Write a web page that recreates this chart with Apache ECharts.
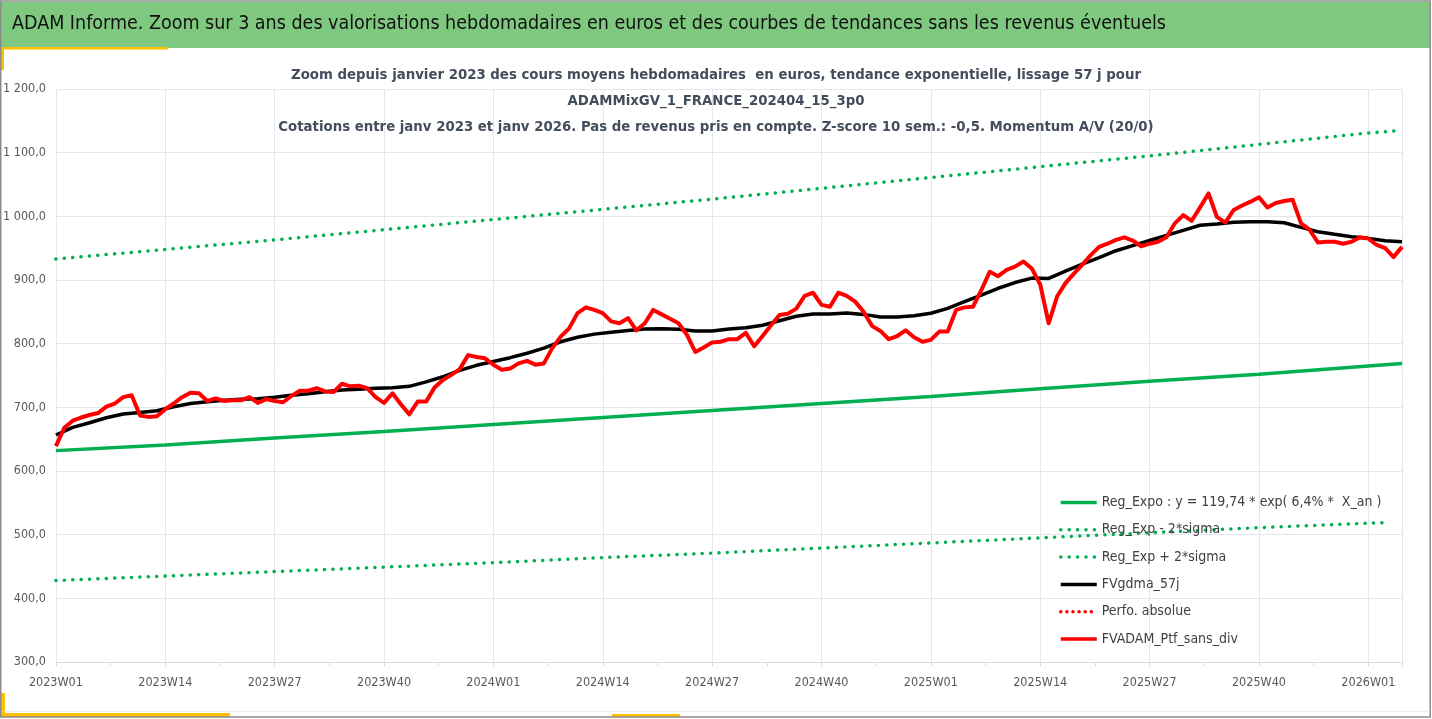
<!DOCTYPE html>
<html>
<head>
<meta charset="utf-8">
<script src="https://cdn.jsdelivr.net/npm/echarts@6/dist/echarts.min.js"></script>
<style>
  html, body { margin: 0; padding: 0; background: #fff; }
  #main { width: 1432px; height: 719px; }
</style>
</head>
<body>
<div id="main"></div>
<script>
// semaines ISO affichées (2023W01 -> 2026W05)
var weekCounts = [[2023, 52], [2024, 52], [2025, 52], [2026, 5]];
var weeks = [];
weekCounts.forEach(function (yc) {
  for (var w = 1; w <= yc[1]; w++) weeks.push(yc[0] + 'W' + (w < 10 ? '0' + w : w));
});

// FVADAM_Ptf_sans_div, une valeur par semaine
var ptfValues = [
  639, 668, 679, 684, 688, 691, 701, 706, 716, 719,
  687, 685, 686, 697, 706, 716, 723, 722, 710, 714,
  710, 711, 711, 716, 707, 713, 710, 708, 718, 726,
  726, 730, 725, 724, 737, 733, 734, 730, 716, 707,
  722, 705, 689, 709, 709, 731, 743, 751, 760, 782,
  779, 777, 767, 759, 761, 769, 773, 767, 769, 793,
  811, 824, 848, 857, 853, 848, 835, 832, 840, 821,
  832, 853, 846, 839, 832, 814, 787, 794, 802, 803,
  807, 807, 817, 796, 812, 829, 845, 847, 855, 875,
  880, 861, 858, 880, 875, 866, 850, 828, 820, 807,
  812, 821, 810, 803, 806, 819, 819, 853, 857, 858,
  884, 913, 906, 916, 921, 929, 918, 893, 832, 874,
  895, 910, 924, 939, 952, 957, 963, 967, 962, 953,
  957, 960, 967, 989, 1002, 993, 1014, 1036, 999, 990,
  1010, 1017, 1023, 1030, 1014, 1021, 1024, 1026, 989, 979,
  959, 960, 960, 957, 960, 967, 965, 955, 950, 936,
  952
];

// FVgdma_57j, lu toutes les 2 semaines (0, 2, 4 ... 160)
var gdmaValues = [
  656.5, 668.6, 675.8, 683.7, 689.5, 692, 694.7, 701, 706, 708.8,
  711, 712.6, 713.6, 715.7, 718.9, 721.4, 724.6, 727.2, 728.3, 730,
  730.8, 733, 740, 748, 758, 766, 772, 778, 785, 793,
  803, 810, 815, 818, 820.5, 823, 823.5, 822.5, 820, 820,
  823, 825, 829, 836, 843, 846.6, 846.6, 848, 846, 842,
  842, 844, 847.7, 855.5, 866, 876.4, 887, 896, 903, 902.5,
  914, 925, 935, 946, 954, 962, 970, 978, 986, 988,
  990.6, 991.6, 991.6, 990, 982.7, 975.8, 971.7, 968, 965.4, 961.7,
  960
];

// courbes de tendance, lues aux semaines étiquetées
var trendIdx = [0, 13, 26, 39, 52, 65, 78, 91, 104, 117, 130, 143, 156, 160];
var regExpo = [632, 641, 652, 662, 673, 684, 695, 706, 717, 729, 741, 752, 765, 769];
var regPlus = [933, 948, 963, 979, 995, 1011, 1027, 1044, 1061, 1078, 1095, 1113, 1131, 1135];
var lowerIdx = [0, 13, 26, 39, 52, 65, 78, 91, 104, 117, 130, 143, 156, 158];
var regMinus = [428, 435, 442, 449, 456, 464, 471, 479, 487, 495, 503, 511, 518, 519];

var yTicks = [300, 1200, 100];

function pairs(idx, vals) {
  return vals.map(function (v, k) { return [idx[k], v]; });
}

var FONT = "'Liberation Sans Narrow', 'DejaVu Sans Condensed', 'Liberation Sans', sans-serif";
var GREEN = '#00b050';

var chart = echarts.init(document.getElementById('main'));
chart.setOption({
  animation: false,
  textStyle: { fontFamily: FONT },
  title: {
    text: 'Zoom depuis janvier 2023 des cours moyens hebdomadaires  en euros, tendance exponentielle, lissage 57 j pour\n' +
      'ADAMMixGV_1_FRANCE_202404_15_3p0\n' +
      'Cotations entre janv 2023 et janv 2026. Pas de revenus pris en compte. Z-score 10 sem.: -0,5. Momentum A/V (20/0)',
    left: 'center',
    top: 62,
    padding: 0,
    textStyle: { fontFamily: FONT, fontSize: 14.8, fontWeight: 'bold', color: '#434d5c', lineHeight: 26 }
  },
  graphic: [
    { type: 'rect', shape: { x: 0, y: 2, width: 1430, height: 46 }, style: { fill: '#7fc87f' }, silent: true },
    {
      type: 'text', left: 12, top: 14,
      style: {
        text: 'ADAM Informe. Zoom sur 3 ans des valorisations hebdomadaires en euros et des courbes de tendances sans les revenus éventuels',
        font: '19.5px ' + FONT, fill: '#111'
      }
    },
    { type: 'rect', shape: { x: 0, y: 47, width: 168, height: 2.5 }, style: { fill: '#ffc000' }, silent: true },
    { type: 'rect', shape: { x: 0, y: 47, width: 4, height: 23 }, style: { fill: '#ffc000' }, silent: true },
    { type: 'rect', shape: { x: 0, y: 713, width: 230, height: 4 }, style: { fill: '#ffc000' }, silent: true },
    { type: 'rect', shape: { x: 0, y: 693, width: 5, height: 24 }, style: { fill: '#ffc000' }, silent: true },
    { type: 'rect', shape: { x: 612, y: 714, width: 68, height: 3 }, style: { fill: '#ffc000' }, silent: true },
    { type: 'rect', shape: { x: 0, y: 711, width: 1428, height: 0.5 }, style: { fill: '#dcdcdc' }, silent: true },
    { type: 'rect', shape: { x: 0.75, y: 1, width: 1429.5, height: 716 }, style: { fill: 'none', stroke: '#8c8c8c', lineWidth: 1.5 }, silent: true }
  ],
  legend: {
    orient: 'vertical',
    left: 1059,
    top: 494,
    padding: 0,
    itemWidth: 36,
    itemHeight: 12,
    itemGap: 10.3,
    itemStyle: { opacity: 0 },
    lineStyle: { width: 3.5 },
    textStyle: { fontFamily: FONT, fontSize: 14, lineHeight: 17, color: '#404040' },
    data: ['Reg_Expo : y = 119,74 * exp( 6,4% *  X_an )', 'Reg_Exp - 2*sigma', 'Reg_Exp + 2*sigma',
      'FVgdma_57j', 'Perfo. absolue', 'FVADAM_Ptf_sans_div']
  },
  grid: { left: 54, right: 30, top: 89, bottom: 57 },
  xAxis: {
    type: 'value',
    min: 0,
    max: weeks.length - 1,
    interval: 13,
    axisLine: { show: true, lineStyle: { color: '#d9d9d9' } },
    axisTick: { show: true, length: 4, lineStyle: { color: '#d9d9d9' } },
    minorTick: { show: true, splitNumber: 2, length: 4, lineStyle: { color: '#d9d9d9' } },
    splitLine: { show: true, lineStyle: { color: '#e3e6ec' } },
    axisLabel: {
      margin: 14, fontSize: 12.5, color: '#595959', fontFamily: FONT,
      formatter: function (v) { return v % 13 === 0 ? weeks[v] : ''; }
    }
  },
  yAxis: {
    type: 'value',
    min: yTicks[0],
    max: yTicks[1],
    interval: yTicks[2],
    axisLine: { show: false },
    axisTick: { show: false },
    splitLine: { lineStyle: { color: '#e3e6ec' } },
    axisLabel: {
      margin: 10, fontSize: 12.5, color: '#595959', fontFamily: FONT,
      formatter: function (v) {
        var s = v.toFixed(1).replace('.', ',');
        return v >= 1000 ? s.slice(0, 1) + ' ' + s.slice(1) : s;
      }
    }
  },
  series: [
    {
      name: 'Reg_Expo : y = 119,74 * exp( 6,4% *  X_an )', type: 'line', symbol: 'none',
      data: pairs(trendIdx, regExpo), lineStyle: { color: GREEN, width: 3.5 }, itemStyle: { color: GREEN }
    },
    {
      name: 'Reg_Exp - 2*sigma', type: 'line', symbol: 'none',
      data: pairs(lowerIdx, regMinus),
      lineStyle: { color: GREEN, width: 3.5, type: [0.1, 8.3], cap: 'round' }, itemStyle: { color: GREEN }
    },
    {
      name: 'Reg_Exp + 2*sigma', type: 'line', symbol: 'none',
      data: pairs(trendIdx, regPlus),
      lineStyle: { color: GREEN, width: 3.5, type: [0.1, 8.3], cap: 'round' }, itemStyle: { color: GREEN }
    },
    {
      name: 'FVgdma_57j', type: 'line', symbol: 'none',
      data: gdmaValues.map(function (v, k) { return [k * 2, v]; }),
      lineStyle: { color: '#000', width: 3.5 }, itemStyle: { color: '#000' }
    },
    {
      name: 'Perfo. absolue', type: 'line', symbol: 'none', data: [],
      lineStyle: { color: '#ff0000', width: 3, type: [0.1, 6], cap: 'round' }, itemStyle: { color: '#ff0000' }
    },
    {
      name: 'FVADAM_Ptf_sans_div', type: 'line', symbol: 'none',
      data: ptfValues.map(function (v, k) { return [k, v]; }),
      lineStyle: { color: '#ff0000', width: 4, join: 'round' }, itemStyle: { color: '#ff0000' }
    }
  ]
});
</script>
</body>
</html>
